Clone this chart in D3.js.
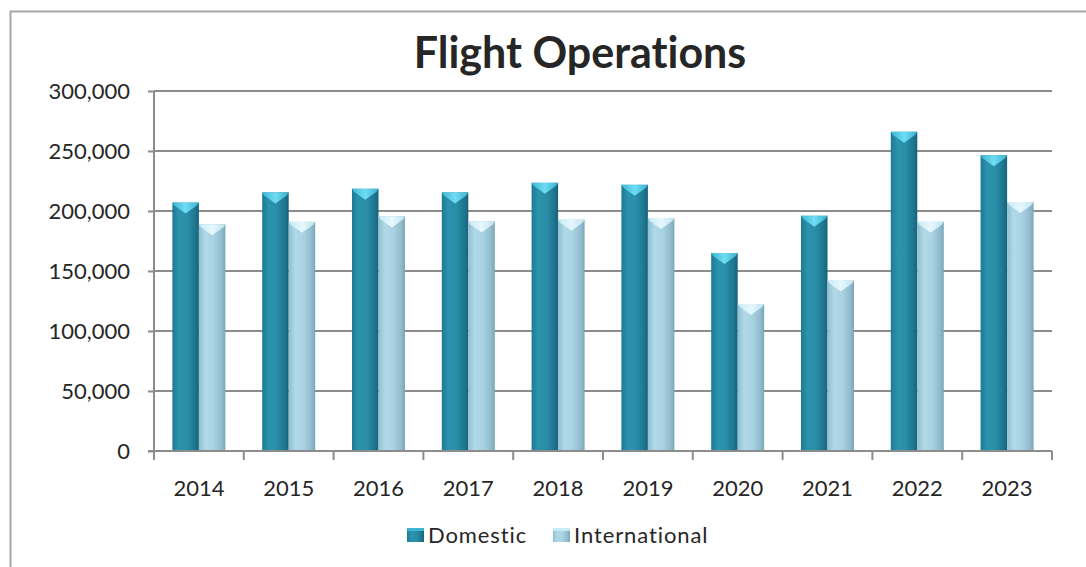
<!DOCTYPE html>
<html>
<head>
<meta charset="utf-8">
<script src="https://cdn.jsdelivr.net/npm/d3@7"></script>
<style>
  html, body { margin: 0; padding: 0; background: #fff; }
  svg { display: block; }
  text { font-family: Lato, "Open Sans", sans-serif; fill: #262626; font-variant-ligatures: none; }
</style>
</head>
<body>
<svg id="chart" width="1086" height="567"></svg>
<script>
const title = "Flight Operations";
const years = ["2014","2015","2016","2017","2018","2019","2020","2021","2022","2023"];
const seriesNames = ["Domestic","International"];
const domestic = [207000, 215500, 218500, 215500, 223500, 221800, 165000, 196000, 266000, 246500];
const international = [189000, 191000, 195500, 191300, 192800, 194200, 122500, 142000, 191000, 207500];
const yTicks = [0, 50000, 100000, 150000, 200000, 250000, 300000];

const svg = d3.select("#chart");
const W = 1086, H = 567;
const m = { left: 154, right: 1052, top: 91, bottom: 451 };

// chart frame
svg.append("path")
  .attr("d", `M10.5,${H} L10.5,11.5 L${W},11.5`)
  .attr("fill", "none").attr("stroke", "#a6a6a6").attr("stroke-width", 2);

// defs: gradients
const defs = svg.append("defs");
function hGrad(id, stops) {
  const g = defs.append("linearGradient").attr("id", id)
    .attr("x1", "0%").attr("x2", "100%").attr("y1", "0%").attr("y2", "0%");
  stops.forEach(s => g.append("stop").attr("offset", s[0]).attr("stop-color", s[1]));
}
hGrad("gD", [["0%", "#1d7a92"], ["25%", "#2b93ae"], ["55%", "#2a8ea8"], ["85%", "#1f7690"], ["100%", "#17627a"]]);
hGrad("gI", [["0%", "#8fbfd0"], ["25%", "#b1d9e8"], ["55%", "#a9d2e2"], ["85%", "#92bccd"], ["100%", "#7aa6b8"]]);
hGrad("cD", [["0%", "#3db6d4"], ["50%", "#6fdcf3"], ["100%", "#3ab0cf"]]);
hGrad("cI", [["0%", "#c7eaf4"], ["50%", "#e6f8fd"], ["100%", "#c0e3ee"]]);

const x = d3.scaleBand().domain(years).range([m.left, m.right]).paddingInner(0).paddingOuter(0);
const y = d3.scaleLinear().domain([0, 300000]).range([m.bottom, m.top]);

// gridlines + y axis
const yAxis = d3.axisLeft(y).tickValues(yTicks).tickSize(6).tickFormat(d3.format(","));
const gy = svg.append("g").attr("transform", `translate(${m.left},0)`).call(yAxis);
gy.select(".domain").attr("d", `M0,${m.top} V${m.bottom + 9}`).attr("stroke", "#8c8c8c").attr("stroke-width", 2);
gy.selectAll(".tick line").attr("stroke", "#8c8c8c").attr("stroke-width", 2);
gy.selectAll(".tick text").attr("x", -24).style("font-size", "22px").attr("fill", "#262626").style("font-family", "Lato, sans-serif");

svg.append("g").selectAll("line").data(yTicks.filter(d => d > 0)).join("line")
  .attr("x1", m.left).attr("x2", m.right)
  .attr("y1", d => y(d)).attr("y2", d => y(d))
  .attr("stroke", "#8c8c8c").attr("stroke-width", 2);

// bars
const data = years.map((yr, i) => ({ yr, vals: [domestic[i], international[i]] }));
const barW = 26.5;
const groups = svg.append("g").selectAll("g").data(data).join("g")
  .attr("transform", d => `translate(${x(d.yr) + x.bandwidth() / 2 - barW},0)`);

groups.each(function(d) {
  const g = d3.select(this);
  d.vals.forEach((v, k) => {
    const x0 = k * barW, x1 = x0 + barW, top = y(v), bot = y(0);
    g.append("rect").attr("x", x0).attr("y", top).attr("width", barW).attr("height", bot - top)
      .attr("fill", k === 0 ? "url(#gD)" : "url(#gI)");
    const xc = (x0 + x1) / 2;
    g.append("path")
      .attr("d", `M${x0},${top} L${x1},${top} L${x1 - 2},${top + 3} L${xc},${top + 11} L${x0 + 2},${top + 3} Z`)
      .attr("fill", k === 0 ? "url(#cD)" : "url(#cI)");
  });
});

// x axis
const xAxis = d3.axisBottom(x).tickSize(0).tickSizeOuter(0);
const gx = svg.append("g").attr("transform", `translate(0,${m.bottom})`).call(xAxis);
gx.select(".domain").attr("stroke", "#8c8c8c").attr("stroke-width", 2).attr("d", `M${m.left - 6},0 H${m.right}`);
gx.selectAll(".tick text").attr("dy", 0).attr("y", 45).style("font-size", "22px").attr("fill", "#262626").style("font-family", "Lato, sans-serif");
svg.append("g").selectAll("line").data(years.map(d => x(d) + x.bandwidth())).join("line")
  .attr("x1", d => d).attr("x2", d => d).attr("y1", m.bottom).attr("y2", m.bottom + 9)
  .attr("stroke", "#8c8c8c").attr("stroke-width", 2);

// title
svg.append("text").attr("x", 580).attr("y", 68).attr("text-anchor", "middle")
  .style("font-size", "43px").style("font-weight", "bold").attr("fill", "#0d0d0d").text(title);

// legend
const legend = [
  { name: seriesNames[0], x: 407, fill: "url(#gD)", cap: "#3db6d4" },
  { name: seriesNames[1], x: 553, fill: "url(#gI)", cap: "#c7eaf4" }
];
const lg = svg.append("g").selectAll("g").data(legend).join("g").attr("transform", d => `translate(${d.x},0)`);
lg.append("rect").attr("x", 0).attr("y", 528).attr("width", 17).attr("height", 14).attr("fill", d => d.fill);
lg.append("rect").attr("x", 0).attr("y", 528).attr("width", 17).attr("height", 3).attr("fill", d => d.cap);
lg.append("text").attr("x", 21).attr("y", 543).style("font-size", "22px").style("letter-spacing", "0.9px").text(d => d.name);
</script>
</body>
</html>
